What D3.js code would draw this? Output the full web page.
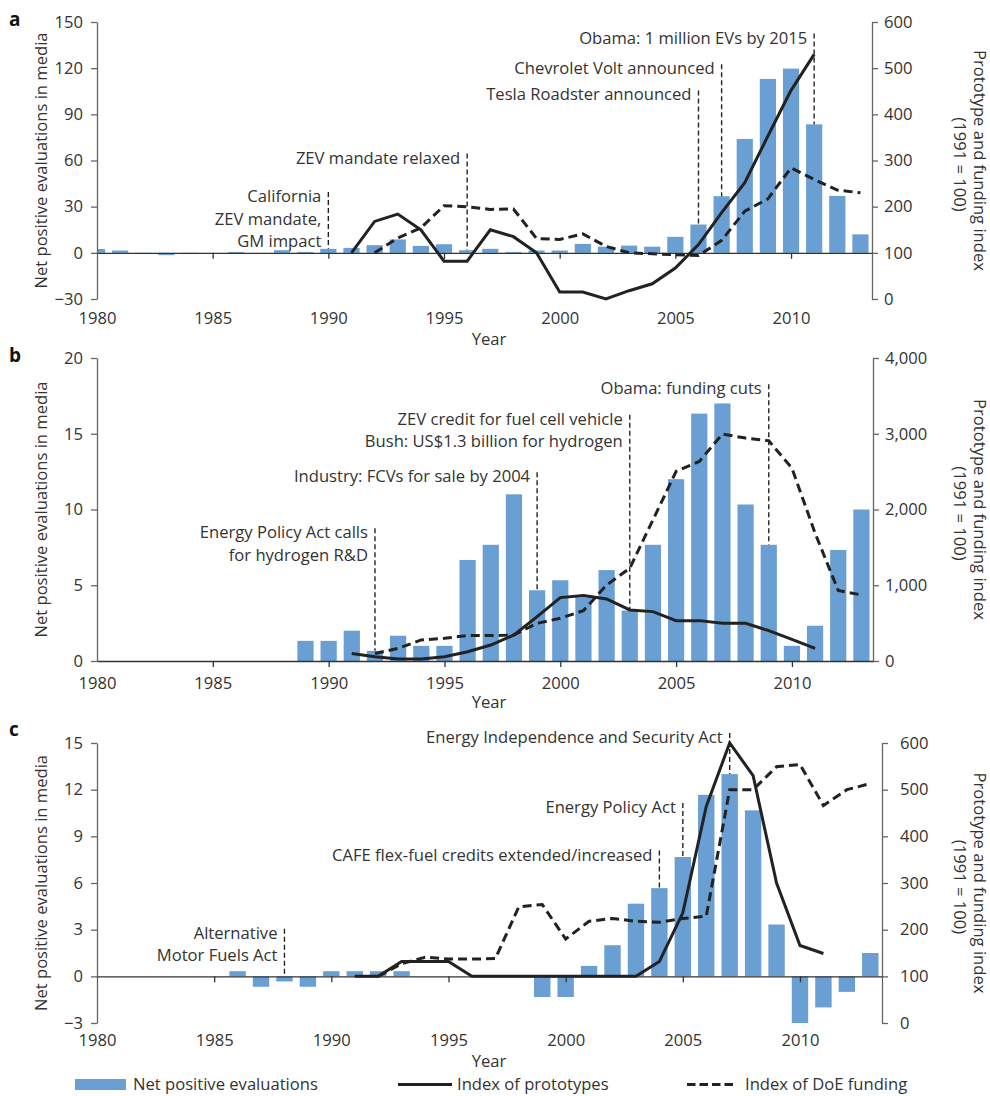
<!DOCTYPE html>
<html>
<head>
<meta charset="utf-8">
<script src="https://cdn.jsdelivr.net/npm/d3@7"></script>
<style>
  body { margin: 0; background: #fff; }
  svg text { font-family: "Open Sans", sans-serif; fill: #333; }
</style>
</head>
<body>
<div id="chart"></div>
<script>
// categories
var years = [1980, 1981, 1982, 1983, 1984, 1985, 1986, 1987, 1988, 1989,
             1990, 1991, 1992, 1993, 1994, 1995, 1996, 1997, 1998, 1999,
             2000, 2001, 2002, 2003, 2004, 2005, 2006, 2007, 2008, 2009,
             2010, 2011, 2012, 2013];
var yearTicks = [1980, 1985, 1990, 1995, 2000, 2005, 2010];

// panel a: electric vehicles
var barsA = [2.5, 1.5, -0.8, -1.5, -0.8, 0, 0.6, 0, 1.7, 0.6,
             2.6, 3.2, 5, 8.7, 4.5, 5.6, 1.7, 2.6, 0.6, 1.5,
             1.5, 5.8, 4, 4.7, 4, 10.4, 18.4, 36.8, 74, 113,
             119.7, 83.5, 37, 12];
var protoA = [null, null, null, null, null, null, null, null, null, null,
              null, 100, 168, 184, 150, 82, 82, 150, 135, 100,
              15, 15, 0, 18, 33, 67, 118, 187, 252, 353,
              452, 530, null, null];
var doeA = [null, null, null, null, null, null, null, null, null, null,
            null, null, 100, 132, 154, 202, 200, 194, 195, 131,
            129, 141, 114, 100, 98, 96, 94, 127, 190, 217,
            284, 259, 236, 230];
var notesA = [
  {year: 1990, text: ["California", "ZEV mandate,", "GM impact"]},
  {year: 1996, text: ["ZEV mandate relaxed"]},
  {year: 2006, text: ["Tesla Roadster announced"]},
  {year: 2007, text: ["Chevrolet Volt announced"]},
  {year: 2011, text: ["Obama: 1 million EVs by 2015"]}
];

// panel b: hydrogen fuel cell vehicles
var barsB = [0, 0, 0, 0, 0, 0, 0, 0, 0, 1.33,
             1.33, 2, 0.67, 1.67, 1, 1, 6.67, 7.67, 11, 4.67,
             5.33, 4.2, 6, 3.33, 7.67, 12, 16.33, 17, 10.33, 7.67,
             1, 2.33, 7.33, 10];
var protoB = [null, null, null, null, null, null, null, null, null, null,
              null, 100, 57, 26, 26, 57, 123, 211, 344, 586,
              837, 863, 819, 674, 652, 533, 533, 498, 498, 401,
              286, 167, null, null];
var doeB = [null, null, null, null, null, null, null, null, null, null,
            null, null, 100, 167, 278, 300, 335, 335, 344, 498,
            564, 665, 1004, 1225, 1863, 2502, 2634, 2996, 2943, 2907,
            2546, 1687, 930, 872];
var notesB = [
  {year: 1992, text: ["Energy Policy Act calls", "for hydrogen R&D"]},
  {year: 1999, text: ["Industry: FCVs for sale by 2004"]},
  {year: 2003, text: ["ZEV credit for fuel cell vehicle", "Bush: US$1.3 billion for hydrogen"]},
  {year: 2009, text: ["Obama: funding cuts"]}
];

// panel c: flex-fuel vehicles
var barsC = [0, 0, 0, 0, 0, 0, 0.33, -0.67, -0.33, -0.67,
             0.33, 0.33, 0.33, 0.33, 0, 0, 0, 0, 0, -1.33,
             -1.33, 0.67, 2, 4.67, 5.67, 7.67, 11.67, 13, 10.67, 3.33,
             -3, -2, -1, 1.5];
var protoC = [null, null, null, null, null, null, null, null, null, null,
              null, 100, 100, 132, 132, 132, 100, 100, 100, 100,
              100, 100, 100, 100, 132, 236, 464, 600, 530, 300,
              166, 149, null, null];
var doeC = [null, null, null, null, null, null, null, null, null, null,
            null, null, 100, 127, 141, 137, 137, 138, 249, 254,
            180, 218, 224, 218, 216, 224, 229, 500, 500, 549,
            554, 466, 500, 513];
var notesC = [
  {year: 1988, text: ["Alternative", "Motor Fuels Act"]},
  {year: 2004, text: ["CAFE flex-fuel credits extended/increased"]},
  {year: 2005, text: ["Energy Policy Act"]},
  {year: 2007, text: ["Energy Independence and Security Act"]}
];

var barColor = "#6a9fd3";
var ink = "#222";
var fs = "16.6px";

var svg = d3.select("#chart").append("svg")
    .attr("width", 990)
    .attr("height", 1096);

var panels = [
  {key: "a", bars: barsA, proto: protoA, doe: doeA, notes: notesA,
   noteAt: [33, 58, 99, 116, 136],
   left: 97, right: 872, top: 22, bottom: 299,
   yL: [-30, 150], yLTicks: [-30, 0, 30, 60, 90, 120, 150],
   yR: [0, 600], yRTicks: [0, 100, 200, 300, 400, 500, 600], rFmt: d3.format("d"),
   rPad: 6, xPad: 13.6, yearDy: 46, letterY: 26},
  {key: "b", bars: barsB, proto: protoB, doe: doeB, notes: notesB,
   noteAt: [8.1, 11.8, 15.6, 17.6],
   left: 97, right: 873, top: 358, bottom: 661,
   yL: [0, 20], yLTicks: [0, 5, 10, 15, 20],
   yR: [0, 4000], yRTicks: [0, 1000, 2000, 3000, 4000], rFmt: d3.format(","),
   rPad: 6, xPad: 16.6, yearDy: 47, letterY: 362},
  {key: "c", bars: barsC, proto: protoC, doe: doeC, notes: notesC,
   noteAt: [2.42, 7.44, 10.5, 15.0],
   left: 97, right: 882, top: 743, bottom: 1023,
   yL: [-3, 15], yLTicks: [-3, 0, 3, 6, 9, 12, 15],
   yR: [0, 600], yRTicks: [0, 100, 200, 300, 400, 500, 600], rFmt: d3.format("d"),
   rPad: 12, xPad: 11.6, yearDy: 44, letterY: 736}
];

function styleAxis(sel) {
  sel.attr("font-size", null).attr("font-family", null);
  sel.selectAll("text").style("font-size", fs).style("fill", "#333");
  sel.selectAll("path, line").attr("stroke", "#666").attr("stroke-width", 1.3);
}

panels.forEach(function (p) {
  var x = d3.scaleLinear().domain([1980, 2013.5]).range([p.left, p.right]);
  var yL = d3.scaleLinear().domain(p.yL).range([p.bottom, p.top]);
  var yR = d3.scaleLinear().domain(p.yR).range([p.bottom, p.top]);
  var step = x(1981) - x(1980);
  var g = svg.append("g");

  var rows = years.map(function (yr, i) {
    return {year: yr, bar: p.bars[i], proto: p.proto[i], doe: p.doe[i]};
  });

  // bars, clipped to the plot so the 1980 bar is cut by the left axis
  g.append("clipPath").attr("id", "clip-" + p.key)
    .append("rect")
      .attr("x", p.left).attr("y", p.top - 5)
      .attr("width", p.right - p.left).attr("height", p.bottom - p.top + 10);

  g.append("g")
      .attr("clip-path", "url(#clip-" + p.key + ")")
    .selectAll("rect")
    .data(rows.filter(function (d) { return d.bar !== 0; }))
    .enter().append("rect")
      .attr("x", function (d) { return x(d.year) - step * 0.35; })
      .attr("width", step * 0.7)
      .attr("y", function (d) { return yL(Math.max(0, d.bar)); })
      .attr("height", function (d) { return Math.abs(yL(d.bar) - yL(0)); })
      .attr("fill", barColor);

  // left axis
  g.append("g")
      .attr("transform", "translate(" + p.left + ",0)")
      .call(d3.axisLeft(yL).tickValues(p.yLTicks).tickSize(6).tickSizeOuter(0).tickPadding(8))
      .call(styleAxis);

  // right axis
  g.append("g")
      .attr("transform", "translate(" + p.right + ",0)")
      .call(d3.axisRight(yR).tickValues(p.yRTicks).tickFormat(p.rFmt)
              .tickSize(6).tickSizeOuter(0).tickPadding(p.rPad))
      .call(styleAxis);

  // zero line with year ticks
  var zero = g.append("g")
      .attr("transform", "translate(0," + yL(0) + ")")
      .call(d3.axisBottom(x).tickValues(yearTicks.slice(1)).tickSize(6)
              .tickSizeOuter(0).tickFormat(""));
  zero.attr("font-size", null).attr("font-family", null);
  zero.selectAll("path, line").attr("stroke", "#333").attr("stroke-width", 1.3);

  // year labels at the bottom of the panel
  var xl = g.append("g")
      .attr("transform", "translate(0," + p.bottom + ")")
      .call(d3.axisBottom(x).tickValues(yearTicks).tickFormat(d3.format("d"))
              .tickSize(0).tickPadding(p.xPad));
  xl.select(".domain").remove();
  xl.call(styleAxis);

  g.append("text")
      .attr("x", 489).attr("y", p.bottom + p.yearDy)
      .attr("text-anchor", "middle")
      .style("font-size", fs)
      .text("Year");

  // annotations
  p.notes.forEach(function (n, i) {
    var bx = x(n.year);
    var base = yL(p.noteAt[i]);
    var v = p.bars[years.indexOf(n.year)];
    g.append("line")
        .attr("x1", bx).attr("x2", bx)
        .attr("y1", base - 10).attr("y2", yL(Math.max(0, v)))
        .attr("stroke", ink).attr("stroke-width", 1.4)
        .attr("stroke-dasharray", "5,3");
    var t = g.append("text")
        .attr("text-anchor", "end")
        .style("font-size", fs);
    n.text.forEach(function (s, j) {
      t.append("tspan").attr("x", bx - 7).attr("y", base + j * 22.5).text(s);
    });
  });

  // index lines
  var protoLine = d3.line()
      .defined(function (d) { return d.proto != null; })
      .x(function (d) { return x(d.year); })
      .y(function (d) { return yR(d.proto); });
  var doeLine = d3.line()
      .defined(function (d) { return d.doe != null; })
      .x(function (d) { return x(d.year); })
      .y(function (d) { return yR(d.doe); });

  g.append("path").datum(rows).attr("d", doeLine)
      .attr("fill", "none").attr("stroke", ink).attr("stroke-width", 3)
      .attr("stroke-dasharray", "9,5");
  g.append("path").datum(rows).attr("d", protoLine)
      .attr("fill", "none").attr("stroke", ink).attr("stroke-width", 3);

  // axis titles
  var cy = (p.top + p.bottom) / 2;
  g.append("text")
      .attr("transform", "translate(40," + cy + ") rotate(-90)")
      .attr("text-anchor", "middle").attr("dominant-baseline", "central")
      .style("font-size", fs)
      .text("Net positive evaluations in media");
  g.append("text")
      .attr("transform", "translate(980," + cy + ") rotate(90)")
      .attr("text-anchor", "middle").attr("dominant-baseline", "central")
      .style("font-size", fs)
      .text("Prototype and funding index");
  g.append("text")
      .attr("transform", "translate(960," + (cy + 4) + ") rotate(90)")
      .attr("text-anchor", "middle").attr("dominant-baseline", "central")
      .style("font-size", fs)
      .text("(1991 = 100)");

  // panel letter
  g.append("text")
      .attr("x", 9).attr("y", p.letterY)
      .style("font-size", "19px").style("font-weight", "bold").style("fill", "#111")
      .text(p.key);
});

// legend
var lg = svg.append("g");
lg.append("rect").attr("x", 75).attr("y", 1079).attr("width", 51).attr("height", 11)
    .attr("fill", barColor);
lg.append("text").attr("x", 133).attr("y", 1090).style("font-size", fs)
    .text("Net positive evaluations");
lg.append("line").attr("x1", 398).attr("x2", 452).attr("y1", 1084.5).attr("y2", 1084.5)
    .attr("stroke", ink).attr("stroke-width", 3);
lg.append("text").attr("x", 457).attr("y", 1090).style("font-size", fs)
    .text("Index of prototypes");
lg.append("line").attr("x1", 687).attr("x2", 737).attr("y1", 1084.5).attr("y2", 1084.5)
    .attr("stroke", ink).attr("stroke-width", 3).attr("stroke-dasharray", "8.5,4");
lg.append("text").attr("x", 745).attr("y", 1090).style("font-size", fs)
    .text("Index of DoE funding");
</script>
</body>
</html>
